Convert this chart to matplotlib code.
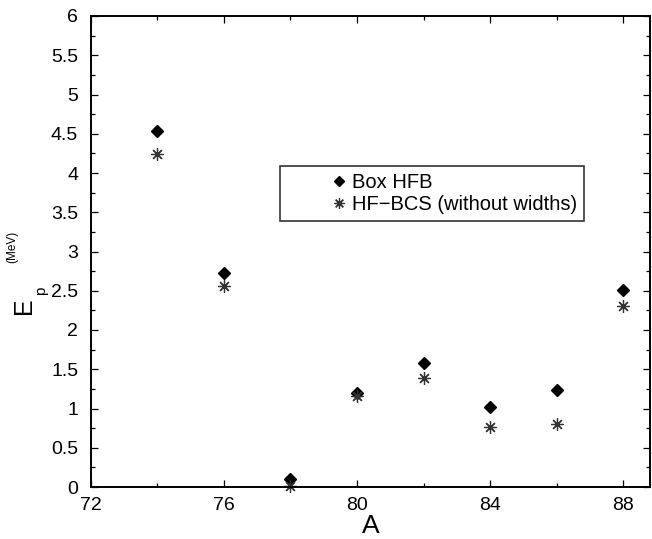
import matplotlib
matplotlib.use("Agg")
import matplotlib.pyplot as plt
from matplotlib.ticker import MultipleLocator, FuncFormatter

plt.rcParams['font.family'] = ['Liberation Sans', 'DejaVu Sans']

mass_numbers = [74, 76, 78, 80, 82, 84, 86, 88]
box_hfb = [4.54, 2.73, 0.10, 1.20, 1.58, 1.02, 1.23, 2.51]
hf_bcs = [4.24, 2.56, 0.01, 1.16, 1.39, 0.76, 0.80, 2.31]

W, H = 652, 539
fig = plt.figure(figsize=(W / 100, H / 100), dpi=100)
ax = fig.add_axes([90.7 / W, 1 - 487 / H, (650 - 90.7) / W, (487 - 16) / H])

ax.plot(mass_numbers, box_hfb, linestyle='none', marker='D', markersize=6,
        color='black', label='Box HFB', clip_on=False)
ax.plot(mass_numbers, hf_bcs, linestyle='none', marker=(8, 2, 0), markersize=9,
        markeredgewidth=0.9, color='#333333', label='HF\u2212BCS (without widths)',
        clip_on=False)

ax.xaxis.set_major_locator(MultipleLocator(4))
ax.xaxis.set_minor_locator(MultipleLocator(2))
ax.yaxis.set_major_locator(MultipleLocator(0.5))
ax.yaxis.set_minor_locator(MultipleLocator(0.25))
ax.yaxis.set_major_formatter(FuncFormatter(lambda v, pos: '%g' % v))
ax.set_xlim(72, 88.8)
ax.set_ylim(0, 6)

ax.tick_params(which='both', direction='in', top=True, right=True,
               labelsize=14, width=0.9)
ax.tick_params(which='major', length=5)
ax.tick_params(which='minor', length=3)
ax.tick_params(axis='x', pad=7)
ax.tick_params(axis='y', pad=9)
for s in ax.spines.values():
    s.set_linewidth(1.4)

ax.set_xlabel('A', fontsize=19, labelpad=0)

# E_p^(MeV) label, built from three pieces like the original
fig.text(24 / W, 1 - 306 / H, 'E', rotation=90, fontsize=18,
         ha='center', va='center')
fig.text(41 / W, 1 - 291 / H, 'p', rotation=90, fontsize=11,
         ha='center', va='center')
fig.text(12 / W, 1 - 247 / H, '(MeV)', rotation=90, fontsize=8.5,
         ha='center', va='center')

leg = ax.legend(loc='upper left', bbox_to_anchor=((280 - 90.7) / 559.3, (487 - 166) / 471),
                fontsize=14.5, frameon=True, fancybox=False, edgecolor='black',
                borderpad=0.35, handlelength=5.17, handletextpad=-1.94,
                labelspacing=0.15, borderaxespad=0, markerscale=0.85)
leg.get_frame().set_linewidth(1.2)

fig.savefig("out.png", dpi=100)
